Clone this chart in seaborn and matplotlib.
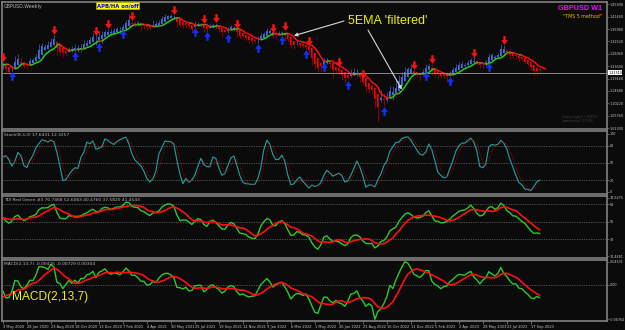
import numpy as np
import pandas as pd
import seaborn as sns
import matplotlib.pyplot as plt
import matplotlib.transforms as mtransforms
from matplotlib.collections import LineCollection
from matplotlib.path import Path

# GBPUSD weekly. 15 warm-up weeks (19 Jan - 26 Apr 2020) only feed the indicators,
# the visible chart starts 3 May 2020 (index 0) and ends 8 Oct 2023 (index 179)
warmup_open = 1.3010
warmup_close = [1.3077, 1.3203, 1.2893, 1.3048, 1.2962, 1.2827, 1.3045, 1.2795, 1.1634, 1.2348,
                1.2270, 1.2454, 1.2487, 1.2339, 1.2491]
warmup_high = [1.3120, 1.3210, 1.3285, 1.3070, 1.3070, 1.3010, 1.3080, 1.3200, 1.2830, 1.2480,
               1.2485, 1.2480, 1.2650, 1.2530, 1.2520]
warmup_low = [1.2960, 1.2990, 1.2870, 1.2850, 1.2850, 1.2725, 1.2725, 1.2740, 1.1410, 1.1450,
              1.2160, 1.2165, 1.2410, 1.2250, 1.2320]

week_close = [1.2404, 1.2130, 1.2166, 1.2347, 1.2668, 1.2549, 1.2343, 1.2336, 1.2473, 1.2615,
              1.2567, 1.2788, 1.3085, 1.3053, 1.3087, 1.3089, 1.3348, 1.3280, 1.2795, 1.2915,
              1.2747, 1.2943, 1.3046, 1.2914, 1.3066, 1.2945, 1.3150, 1.3127, 1.3282, 1.3315,
              1.3438, 1.3224, 1.3517, 1.3555, 1.3672, 1.3566, 1.3586, 1.3686, 1.3705, 1.3695,
              1.3851, 1.4012, 1.3925, 1.3838, 1.3925, 1.3865, 1.3788, 1.3832, 1.3703, 1.3765,
              1.3871, 1.3819, 1.3995, 1.4092, 1.4150, 1.4183, 1.4157, 1.4110, 1.3801, 1.3883,
              1.3828, 1.3890, 1.3730, 1.3760, 1.3908, 1.3875, 1.3871, 1.3621, 1.3758, 1.3867,
              1.3835, 1.3739, 1.3675, 1.3551, 1.3625, 1.3743, 1.3746, 1.3681, 1.3497, 1.3412,
              1.3443, 1.3336, 1.3270, 1.3265, 1.3233, 1.3403, 1.3529, 1.3588, 1.3677, 1.3546,
              1.3393, 1.3528, 1.3561, 1.3592, 1.3408, 1.3254, 1.3034, 1.3181, 1.3187, 1.3115,
              1.3030, 1.3065, 1.2832, 1.2575, 1.2332, 1.2265, 1.2487, 1.2620, 1.2487, 1.2310,
              1.2214, 1.2263, 1.2093, 1.2016, 1.1868, 1.2001, 1.2164, 1.2074, 1.2137, 1.1829,
              1.1735, 1.1511, 1.1587, 1.1414, 1.0858, 1.1166, 1.1090, 1.1172, 1.1311, 1.1614,
              1.1375, 1.1705, 1.1892, 1.2096, 1.2290, 1.2262, 1.2165, 1.2055, 1.2097, 1.2086,
              1.2225, 1.2395, 1.2395, 1.2053, 1.2059, 1.2032, 1.1944, 1.2040, 1.2030, 1.2180,
              1.2233, 1.2337, 1.2416, 1.2410, 1.2442, 1.2565, 1.2636, 1.2457, 1.2444, 1.2338,
              1.2523, 1.2585, 1.2818, 1.2715, 1.2703, 1.2838, 1.3093, 1.2855, 1.2851, 1.2749,
              1.2693, 1.2734, 1.2576, 1.2587, 1.2464, 1.2377, 1.2238, 1.2198, 1.2239, 1.2131]
week_high = [1.2515, 1.2435, 1.2297, 1.2365, 1.2730, 1.2813, 1.2690, 1.2545, 1.2505, 1.2670,
             1.2665, 1.2800, 1.3170, 1.3185, 1.3145, 1.3265, 1.3375, 1.3482, 1.3285, 1.3005,
             1.2980, 1.2980, 1.3060, 1.3085, 1.3178, 1.3140, 1.3175, 1.3310, 1.3300, 1.3400,
             1.3540, 1.3475, 1.3625, 1.3625, 1.3675, 1.3705, 1.3710, 1.3745, 1.3760, 1.3760,
             1.3865, 1.4035, 1.4241, 1.4015, 1.3990, 1.4000, 1.3925, 1.3885, 1.3920, 1.3810,
             1.4010, 1.3985, 1.4010, 1.4165, 1.4235, 1.4220, 1.4250, 1.4220, 1.4135, 1.3975,
             1.3935, 1.3910, 1.3910, 1.3785, 1.3985, 1.3960, 1.3900, 1.3890, 1.3785, 1.3890,
             1.3890, 1.3915, 1.3750, 1.3750, 1.3675, 1.3775, 1.3835, 1.3810, 1.3700, 1.3605,
             1.3515, 1.3485, 1.3375, 1.3310, 1.3375, 1.3440, 1.3545, 1.3600, 1.3750, 1.3690,
             1.3555, 1.3630, 1.3640, 1.3645, 1.3645, 1.3440, 1.3275, 1.3215, 1.3300, 1.3210,
             1.3150, 1.3145, 1.3090, 1.2860, 1.2640, 1.2405, 1.2525, 1.2665, 1.2665, 1.2600,
             1.2405, 1.2325, 1.2330, 1.2165, 1.2060, 1.2065, 1.2245, 1.2295, 1.2275, 1.2150,
             1.1900, 1.1760, 1.1650, 1.1735, 1.1540, 1.1235, 1.1495, 1.1380, 1.1440, 1.1645,
             1.1645, 1.1855, 1.2030, 1.2155, 1.2345, 1.2345, 1.2445, 1.2245, 1.2125, 1.2110,
             1.2245, 1.2435, 1.2450, 1.2450, 1.2195, 1.2270, 1.2150, 1.2145, 1.2145, 1.2205,
             1.2345, 1.2425, 1.2525, 1.2545, 1.2475, 1.2585, 1.2670, 1.2680, 1.2520, 1.2470,
             1.2545, 1.2595, 1.2850, 1.2845, 1.2760, 1.2850, 1.3145, 1.3140, 1.2995, 1.2895,
             1.2815, 1.2800, 1.2795, 1.2745, 1.2610, 1.2550, 1.2425, 1.2275, 1.2270, 1.2335]
week_low = [1.2266, 1.2075, 1.2076, 1.2165, 1.2330, 1.2460, 1.2330, 1.2300, 1.2255, 1.2440,
            1.2480, 1.2545, 1.2770, 1.2980, 1.2985, 1.3060, 1.3070, 1.3180, 1.2765, 1.2765,
            1.2675, 1.2745, 1.2865, 1.2865, 1.2890, 1.2855, 1.2855, 1.3105, 1.3110, 1.3250,
            1.3290, 1.3135, 1.3220, 1.3185, 1.3430, 1.3455, 1.3450, 1.3520, 1.3625, 1.3565,
            1.3675, 1.3815, 1.3885, 1.3780, 1.3780, 1.3830, 1.3670, 1.3710, 1.3670, 1.3670,
            1.3785, 1.3800, 1.3815, 1.3985, 1.4080, 1.4090, 1.4085, 1.4070, 1.3790, 1.3785,
            1.3740, 1.3730, 1.3725, 1.3570, 1.3760, 1.3840, 1.3800, 1.3600, 1.3610, 1.3725,
            1.3725, 1.3735, 1.3610, 1.3410, 1.3545, 1.3545, 1.3730, 1.3670, 1.3425, 1.3350,
            1.3370, 1.3280, 1.3195, 1.3160, 1.3200, 1.3170, 1.3375, 1.3430, 1.3560, 1.3540,
            1.3360, 1.3410, 1.3490, 1.3480, 1.3275, 1.3220, 1.3000, 1.2995, 1.3110, 1.3050,
            1.3000, 1.2980, 1.2830, 1.2410, 1.2275, 1.2155, 1.2160, 1.2485, 1.2455, 1.2305,
            1.1935, 1.2160, 1.2075, 1.1875, 1.1760, 1.1860, 1.1975, 1.2065, 1.2005, 1.1805,
            1.1715, 1.1445, 1.1405, 1.1350, 1.0840, 1.0350, 1.1055, 1.0925, 1.1060, 1.1255,
            1.1145, 1.1350, 1.1700, 1.1760, 1.1900, 1.2105, 1.2135, 1.2000, 1.1990, 1.1840,
            1.2030, 1.2170, 1.2265, 1.2045, 1.1960, 1.1915, 1.1920, 1.1920, 1.1800, 1.2010,
            1.2140, 1.2200, 1.2275, 1.2345, 1.2345, 1.2365, 1.2435, 1.2440, 1.2390, 1.2310,
            1.2310, 1.2370, 1.2490, 1.2685, 1.2590, 1.2675, 1.2820, 1.2845, 1.2765, 1.2620,
            1.2615, 1.2615, 1.2550, 1.2545, 1.2445, 1.2365, 1.2230, 1.2035, 1.2035, 1.2120]

date_labels = ["3 May 2020", "28 Jun 2020", "23 Aug 2020", "18 Oct 2020", "13 Dec 2020",
               "7 Feb 2021", "4 Apr 2021", "30 May 2021", "25 Jul 2021", "19 Sep 2021",
               "14 Nov 2021", "9 Jan 2022", "6 Mar 2022", "1 May 2022", "26 Jun 2022",
               "21 Aug 2022", "16 Oct 2022", "11 Dec 2022", "5 Feb 2023", "2 Apr 2023",
               "28 May 2023", "23 Jul 2023", "17 Sep 2023"]

# weeks with a signal arrow
sell_arrows = [0, 17, 31, 35, 43, 57, 67, 71, 78, 90, 94, 102, 112, 120, 137, 143, 157, 167]
buy_arrows = [3, 24, 32, 40, 64, 68, 75, 85, 93, 101, 107, 115, 127, 141, 149, 162]

price_ticks = [1.45900, 1.41440, 1.36980, 1.32520, 1.28060, 1.23600, 1.19140,
               1.14680, 1.10220, 1.05760, 1.01300]
stoch_levels = [20, 50, 80]
stoch_ticks = [0, 20, 50, 80, 100]
tdi_levels = [32, 50, 68]
tdi_ticks = [14.4481, 32, 50, 68, 74.6275]

stoch_title = "Stoch(8,3,3) 17.6431 12.3257"
tdi_title = "TDI Red Green #3 70.7468 52.6083 40.4760 37.5820 41.4543"
macd_title = "MACD(2,13,7) -0.00425 -0.00729 0.00304"

BG = '#0b0b0b'
FRAME = '#808080'
TXT = '#c8c8c8'
W, H = 625, 330
AXFS = 2.4
RIGHT = 607

sns.set_theme(style='dark', rc={'axes.facecolor': BG, 'figure.facecolor': BG})
plt.rcParams['font.family'] = ['DejaVu Sans']

close = np.array(warmup_close + week_close)
high = np.array(warmup_high + week_high)
low = np.array(warmup_low + week_low)
opn = np.r_[warmup_open, close[:-1]]
n_warm = len(warmup_close)
idx = np.arange(len(close)) - n_warm

# APB / heiken ashi bars
ha_close = (opn + high + low + close) / 4
ha_open = np.empty_like(ha_close)
ha_open[0] = (opn[0] + close[0]) / 2
for i in range(1, len(close)):
    ha_open[i] = (ha_open[i - 1] + ha_close[i - 1]) / 2
ha_high = np.maximum(high, np.maximum(ha_open, ha_close))
ha_low = np.minimum(low, np.minimum(ha_open, ha_close))

# indicators
s = pd.Series(close)
ema5 = s.ewm(span=5, adjust=False).mean().values

ll = pd.Series(low).rolling(8).min()
hh = pd.Series(high).rolling(8).max()
stoch_k = (s - ll).rolling(3).sum() / (hh - ll).rolling(3).sum() * 100
stoch_d = stoch_k.rolling(3).mean()

delta = s.diff()
gain = delta.clip(lower=0).ewm(alpha=1 / 13, adjust=False).mean()
loss = (-delta.clip(upper=0)).ewm(alpha=1 / 13, adjust=False).mean()
rsi = 100 - 100 / (1 + gain / loss)
tdi_green = rsi.rolling(2).mean()
tdi_red = rsi.rolling(7).mean()

macd = s.ewm(span=2, adjust=False).mean() - s.ewm(span=13, adjust=False).mean()
macd_sig = macd.rolling(7).mean()

ind = pd.DataFrame({'week': idx, 'k': stoch_k, 'd': stoch_d, 'green': tdi_green,
                    'red': tdi_red, 'macd': macd, 'sig': macd_sig})
ind = ind[ind.week >= 0]


def box(x0, y0, x1, y1):
    return [x0 / W, 1 - y1 / H, (x1 - x0) / W, (y1 - y0) / H]


def fpx(x, y):
    return (x / W, 1 - y / H)


fig = plt.figure(figsize=(6.25, 3.3), dpi=100)
ax_main = fig.add_axes(box(2, 2, RIGHT, 129))
ax_st = fig.add_axes(box(2, 131, RIGHT, 194), sharex=ax_main)
ax_tdi = fig.add_axes(box(2, 196, RIGHT, 258), sharex=ax_main)
ax_macd = fig.add_axes(box(2, 260, RIGHT, 321), sharex=ax_main)

for ax in [ax_main, ax_st, ax_tdi, ax_macd]:
    ax.set_facecolor(BG)
    for sp in ax.spines.values():
        sp.set_color(FRAME)
        sp.set_linewidth(1.2)
        sp.set_visible(True)
    ax.yaxis.tick_right()
    ax.tick_params(axis='y', colors=FRAME, labelcolor=TXT, labelsize=AXFS, length=1.5, width=0.5, pad=0.5)
    ax.tick_params(axis='x', bottom=False, labelbottom=False)
    ax.grid(False)

# ---- main price panel
vis = idx >= 0
x = idx[vis]
bull = (ha_close >= ha_open)[vis]
body_cols = np.where(bull, '#4472dc', '#ff0000')
wick_cols = np.where(bull, '#3656a8', '#a00000')
ax_main.vlines(x, ha_low[vis], ha_high[vis], colors=wick_cols, linewidth=0.6)
ax_main.bar(x, (ha_close - ha_open)[vis], bottom=ha_open[vis], width=0.62,
            color=body_cols, linewidth=0)

# 5 EMA drawn two bars ahead, coloured by slope
ex = idx + 2
pts = np.column_stack([ex, ema5])
segs = np.stack([pts[:-1], pts[1:]], axis=1)
slope = np.diff(ema5)
seg_cols = np.where(slope > 0.0015, '#1ed21e', np.where(slope < -0.0015, '#ff1010', '#8c7a28'))
ax_main.add_collection(LineCollection(segs, colors=seg_cols, linewidths=1.1))

down_arrow = Path([(-0.28, 1), (0.28, 1), (0.28, 0.1), (0.8, 0.1), (0, -1), (-0.8, 0.1),
                   (-0.28, 0.1), (-0.28, 1)], closed=True)
up_arrow = Path([(px_, -py_) for px_, py_ in down_arrow.vertices], closed=True)
sa = np.array(sell_arrows) + n_warm
ba = np.array(buy_arrows) + n_warm
ax_main.scatter(idx[sa], high[sa] + 0.017, marker=down_arrow, s=38, color='#ff1010', linewidths=0, zorder=5)
ax_main.scatter(idx[ba], low[ba] - 0.017, marker=up_arrow, s=38, color='#1030ff', linewidths=0, zorder=5)

last_close = close[-1]
ax_main.axhline(last_close, color='#8a8a8a', linewidth=0.7)
ax_main.set_ylim(1.0100, 1.4672)
ax_main.set_yticks(price_ticks)
ax_main.set_yticklabels([f"{v:.5f}" for v in price_ticks])
trans = mtransforms.blended_transform_factory(ax_main.transAxes, ax_main.transData)
ax_main.text(1.002, last_close, f"{last_close:.5f}", transform=trans, fontsize=AXFS, color='black',
             va='center', ha='left', bbox=dict(fc='white', ec='none', pad=0.25))

ax_main.text(0.003, 0.985, "GBPUSD,Weekly", transform=ax_main.transAxes, fontsize=3.4,
             color='#b8b8b8', va='top', ha='left')
fig.text(*fpx(97, 5.5), "APB/HA on/off", fontsize=3.8, color='#0000ff', fontweight='bold',
         va='center', ha='left', bbox=dict(fc='#ffff00', ec='#b0b000', pad=0.6, lw=0.5))
fig.text(*fpx(348, 21.5), "5EMA 'filtered'", fontsize=9, color='#f0f000', va='center',
         ha='left', family=['Liberation Sans'])
fig.text(*fpx(602, 9), "GBPUSD W1", fontsize=5.2, color='#ff00ff', fontweight='bold',
         va='center', ha='right', family=['Liberation Sans'])
fig.text(*fpx(602, 17), '"TMS 5 method"', fontsize=3.4, color='#e0c000', va='center', ha='right')
fig.text(*fpx(562, 119), "Copyright©2010\nwwwmt4.0708", fontsize=3.2, color='#3c3c3c',
         va='center', ha='left', linespacing=1.1)

arrow_style = dict(arrowstyle='-|>', color='#d8d8d8', lw=0.8, mutation_scale=5, shrinkA=0, shrinkB=0)
ax_main.annotate('', xy=(97, ema5[97 - 2 + n_warm] + 0.004), xytext=fpx(344, 21),
                 textcoords='figure fraction', arrowprops=arrow_style)
ax_main.annotate('', xy=(133, ema5[133 - 2 + n_warm] + 0.004), xytext=fpx(368, 30),
                 textcoords='figure fraction', arrowprops=arrow_style)

# ---- stochastic
for lv in stoch_levels:
    ax_st.axhline(lv, color='#8a8a8a', linewidth=0.5, linestyle=(0, (1, 1.5)))
sns.lineplot(data=ind, x='week', y='k', ax=ax_st, color='#1fa3a3', linewidth=0.8)
sns.lineplot(data=ind, x='week', y='d', ax=ax_st, color='#c00000', linewidth=0.7, linestyle=':')
ax_st.set_ylim(-4, 105.2)
ax_st.set_yticks(stoch_ticks)
ax_st.set_yticklabels([str(v) for v in stoch_ticks])
ax_st.text(0.003, 0.975, stoch_title, transform=ax_st.transAxes, fontsize=3.2, color='#b8b8b8',
           va='top', ha='left')

# ---- TDI
for lv in tdi_levels:
    ax_tdi.axhline(lv, color='#8a8a8a', linewidth=0.5, linestyle=(0, (1, 1.5)))
sns.lineplot(data=ind, x='week', y='green', ax=ax_tdi, color='#2ec82e', linewidth=1.0)
sns.lineplot(data=ind, x='week', y='red', ax=ax_tdi, color='#ff1010', linewidth=1.2)
ax_tdi.set_ylim(12.4, 76.4)
ax_tdi.set_yticks(tdi_ticks)
ax_tdi.set_yticklabels(['14.4481', '32', '50', '68', '74.6275'])
ax_tdi.text(0.003, 0.975, tdi_title, transform=ax_tdi.transAxes, fontsize=3.2, color='#b8b8b8',
            va='top', ha='left')

# ---- MACD
ax_macd.axhline(0, color='#8a8a8a', linewidth=0.5, linestyle=(0, (1, 1.5)))
sns.lineplot(data=ind, x='week', y='macd', ax=ax_macd, color='#2ec82e', linewidth=1.0)
sns.lineplot(data=ind, x='week', y='sig', ax=ax_macd, color='#ff1010', linewidth=1.2)
mx = max(ind.macd.max(), ind.sig.max())
mn = min(ind.macd.min(), ind.sig.min())
r = (mx - mn) / (321 - 260 - 3.4)
ax_macd.set_ylim(mn - 1.7 * r, mx + 1.7 * r)
ax_macd.set_yticks([mn, 0, mx])
ax_macd.set_yticklabels([f"{mn:.5f}", "0.00", f"{mx:.5f}"])
ax_macd.text(0.003, 0.975, macd_title, transform=ax_macd.transAxes, fontsize=3.2, color='#b8b8b8',
             va='top', ha='left')
fig.text(*fpx(12, 297), "MACD(2,13,7)", fontsize=8.6, color='#f0f000', va='center', ha='left',
         family=['Liberation Sans'])

for ax in [ax_main, ax_st, ax_tdi, ax_macd]:
    ax.set(xlabel='', ylabel='')

ax_macd.set_xticks(range(0, 8 * len(date_labels), 8))
ax_macd.set_xticklabels(date_labels)
ax_macd.tick_params(axis='x', bottom=True, labelbottom=True, colors=FRAME, labelcolor=TXT,
                    labelsize=2.6, length=2, width=0.5, pad=0.8)
for lab in ax_macd.get_xticklabels():
    lab.set_ha('left')
ax_main.set_xlim(-0.3, 201.4)

fig.savefig('out.png', dpi=100, facecolor=BG)
